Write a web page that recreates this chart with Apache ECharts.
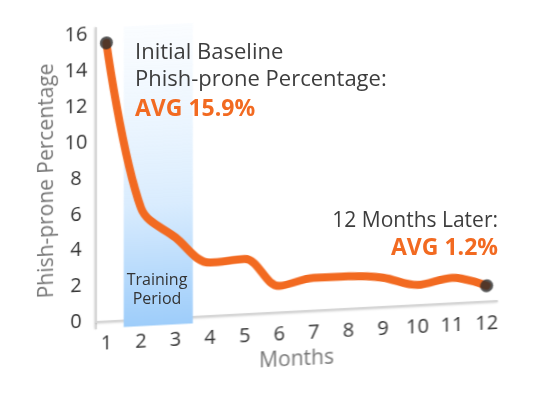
<!DOCTYPE html>
<html>
<head>
<meta charset="utf-8">
<script src="https://cdn.jsdelivr.net/npm/echarts@6/dist/echarts.min.js"></script>
<style>
  html, body { margin: 0; padding: 0; background: #fff; }
  #wrap { position: relative; width: 533px; height: 400px; }
  /* the plot leans back a little, like the original drawing */
  #container { position: absolute; left: 0; top: 0; width: 533px; height: 400px;
    transform: skewY(-3deg); transform-origin: 96px 328.5px; }
  #notes { position: absolute; left: 0; top: 0; width: 533px; height: 400px; pointer-events: none; }
</style>
</head>
<body>
<div id="wrap">
  <div id="container"></div>
  <div id="notes"></div>
</div>
<script>
// data
var months = [1, 2, 3, 4, 5, 6, 7, 8, 9, 10, 11, 12];
var phishProne = [15.5, 6.2, 4.45, 2.95, 3.05, 1.45, 1.8, 1.78, 1.6, 1.1, 1.4, 0.85];
var yTicks = [0, 2, 4, 6, 8, 10, 12, 14, 16];
var trainingPeriod = [1.5, 3.5];
var startNote = ['Initial Baseline', 'Phish-prone Percentage:', 'AVG 15.9%'];
var endNote = ['12 Months Later:', 'AVG 1.2%'];

var orange = '#f26a21';
var font = '"Open Sans", sans-serif';

var lineData = months.map(function (m, i) { return [m, phishProne[i]]; });
var last = months.length - 1;

var myChart = echarts.init(document.getElementById('container'));
var option = {
    animation: false,
    textStyle: { fontFamily: font },
    grid: { left: 96, right: 36, top: 28, bottom: 71.5 },
    xAxis: {
        type: 'value',
        min: 0.7,
        max: 12.3,
        name: 'Months',
        nameLocation: 'middle',
        nameGap: 31,
        nameMoveOverlap: false,
        nameTextStyle: { color: '#777', fontSize: 21, fontFamily: font },
        axisLine: { lineStyle: { color: '#d6d6d6', width: 2, shadowColor: 'rgba(0,0,0,0.15)', shadowBlur: 2, shadowOffsetY: 1 } },
        axisTick: { show: false },
        splitLine: { show: false },
        axisLabel: {
            customValues: months,
            margin: 6,
            color: '#333',
            fontSize: 20,
            fontFamily: font
        }
    },
    yAxis: {
        type: 'value',
        min: -0.39,
        max: 16.36,
        name: 'Phish-prone Percentage',
        nameLocation: 'middle',
        nameGap: 38,
        nameMoveOverlap: false,
        nameTextStyle: { color: '#777', fontSize: 21, fontFamily: font },
        axisLine: { show: true, lineStyle: { color: '#d6d6d6', width: 2, shadowColor: 'rgba(0,0,0,0.15)', shadowBlur: 2, shadowOffsetX: -1 } },
        axisTick: { show: false },
        splitLine: { show: false },
        axisLabel: {
            customValues: yTicks,
            align: 'center',
            margin: 20,
            color: '#333',
            fontSize: 20,
            fontFamily: font
        }
    },
    series: [
        {
            type: 'line',
            data: lineData,
            smooth: 0.35,
            showSymbol: false,
            lineStyle: { color: orange, width: 8, cap: 'round', join: 'round' },
            markArea: {
                silent: true,
                itemStyle: {
                    color: new echarts.graphic.LinearGradient(0, 0, 0, 1, [
                        { offset: 0, color: 'rgba(245,250,255,0.5)' },
                        { offset: 0.6, color: '#d9ecfe' },
                        { offset: 1, color: '#9ecdfa' }
                    ])
                },
                data: [[{ xAxis: trainingPeriod[0] }, { xAxis: trainingPeriod[1] }]]
            },
            z: 3
        },
        {
            // the first and last months carry a dot
            type: 'scatter',
            data: [lineData[0], lineData[last]],
            symbolSize: 13,
            itemStyle: { color: '#2b2b2b' },
            z: 4
        }
    ]
};
myChart.setOption(option);

// level notes on top of the leaning plot
var notes = echarts.init(document.getElementById('notes'));
notes.setOption({
    graphic: [
        { type: 'text', x: 135, y: 53, style: { text: startNote[0], fill: '#3d3d3d', font: '22px ' + font, textVerticalAlign: 'middle' } },
        { type: 'text', x: 135, y: 80, style: { text: startNote[1], fill: '#3d3d3d', font: '22px ' + font, textVerticalAlign: 'middle' } },
        { type: 'text', x: 135, y: 109, style: { text: startNote[2], fill: orange, font: 'bold 23px ' + font, textVerticalAlign: 'middle' } },
        { type: 'text', x: 498, y: 221, style: { text: endNote[0], fill: '#3d3d3d', font: '21px ' + font, textAlign: 'right', textVerticalAlign: 'middle' } },
        { type: 'text', x: 498, y: 248, style: { text: endNote[1], fill: orange, font: 'bold 23px ' + font, textAlign: 'right', textVerticalAlign: 'middle' } },
        { type: 'text', x: 157, y: 280, style: { text: 'Training', fill: '#333', font: '16px ' + font, textAlign: 'center', textVerticalAlign: 'middle' } },
        { type: 'text', x: 157, y: 299, style: { text: 'Period', fill: '#333', font: '16px ' + font, textAlign: 'center', textVerticalAlign: 'middle' } }
    ]
});
</script>
</body>
</html>
